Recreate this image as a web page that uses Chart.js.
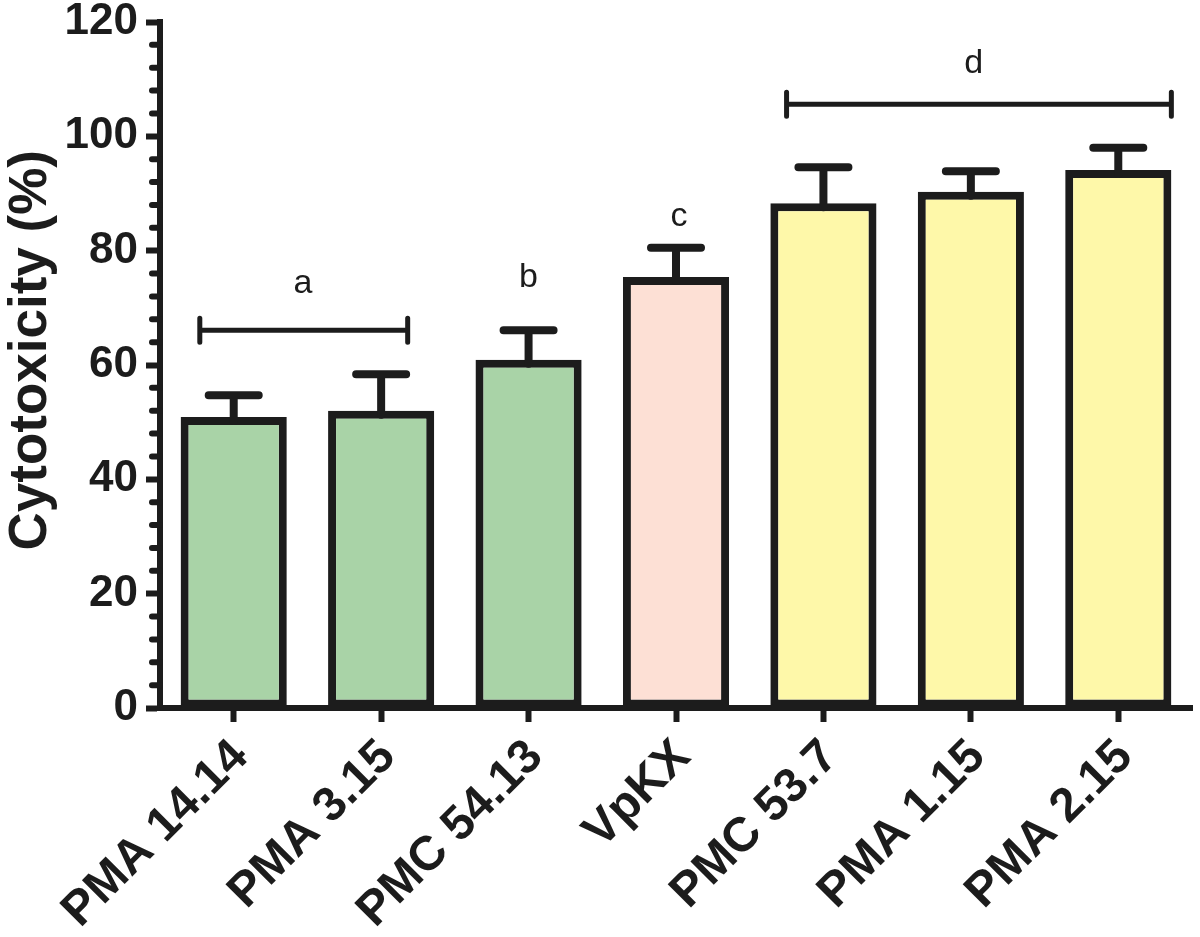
<!DOCTYPE html>
<html>
<head>
<meta charset="utf-8">
<script src="https://cdn.jsdelivr.net/npm/chart.js@4.4.1/dist/chart.umd.min.js"></script>
<style>
  html, body { margin: 0; padding: 0; background: #fff; }
  #wrap { width: 1200px; height: 937px; }
</style>
</head>
<body>
<div id="wrap"><canvas id="cyto" width="1200" height="937"></canvas></div>
<script>
// data
const strains = ['PMA 14.14', 'PMA 3.15', 'PMC 54.13', 'VpKX', 'PMC 53.7', 'PMA 1.15', 'PMA 2.15'];
const cytoMean = [50.9, 52.0, 60.9, 75.4, 88.3, 90.3, 94.1];
const cytoSD = [3.8, 6.4, 5.2, 5.1, 6.3, 3.6, 3.9];
const barColors = ['#a9d3a7', '#a9d3a7', '#a9d3a7', '#fde0d5', '#fef8a9', '#fef8a9', '#fef8a9'];

// significance groups (brackets + letters), x in category units
const bracketFrom = [-0.23, 3.75];
const bracketTo = [1.18, 6.36];
const bracketY = [66.1, 105.6];
const letterText = ['a', 'b', 'c', 'd'];
const letterX = [0.47, 2.0, 3.02, 5.02];
const letterY = [74.3, 75.2, 85.9, 112.8];

const yMin = 0, yMax = 120, yMajor = 20, yMinor = 4;

const ink = '#1c1c1c';
const fam = '"Liberation Sans", Arial, Helvetica, sans-serif';

const extras = {
    id: 'extras',
    afterDatasetsDraw(chart) {
        const ctx = chart.ctx;
        const y = chart.scales.y;
        const meta = chart.getDatasetMeta(0);
        ctx.save();
        ctx.strokeStyle = ink;
        ctx.lineCap = 'round';
        ctx.lineWidth = 8;
        meta.data.forEach((bar, i) => {
            const yb = y.getPixelForValue(cytoMean[i]) + 4;
            const yt = y.getPixelForValue(cytoMean[i] + cytoSD[i]);
            ctx.beginPath();
            ctx.moveTo(bar.x, yb);
            ctx.lineTo(bar.x, yt);
            ctx.moveTo(bar.x - 25, yt);
            ctx.lineTo(bar.x + 25, yt);
            ctx.stroke();
        });
        ctx.restore();
    },
    afterDraw(chart) {
        const ctx = chart.ctx;
        const x = chart.scales.x;
        const y = chart.scales.y;
        const left = chart.chartArea.left;
        ctx.save();
        ctx.strokeStyle = ink;
        ctx.fillStyle = ink;
        ctx.lineCap = 'round';

        // minor ticks on y
        ctx.lineWidth = 6;
        for (let v = yMin; v <= yMax; v += yMinor) {
            if (v % yMajor === 0) continue;
            const py = y.getPixelForValue(v);
            ctx.beginPath();
            ctx.moveTo(left - 8, py);
            ctx.lineTo(left, py);
            ctx.stroke();
        }

        // brackets
        ctx.lineWidth = 5;
        bracketY.forEach((v, i) => {
            const py = y.getPixelForValue(v);
            const x0 = x.getPixelForValue(bracketFrom[i]);
            const x1 = x.getPixelForValue(bracketTo[i]);
            ctx.beginPath();
            ctx.moveTo(x0, py);
            ctx.lineTo(x1, py);
            ctx.moveTo(x0, py - 12);
            ctx.lineTo(x0, py + 12);
            ctx.moveTo(x1, py - 12);
            ctx.lineTo(x1, py + 12);
            ctx.stroke();
        });

        // letters
        ctx.font = '34px ' + fam;
        ctx.textAlign = 'center';
        ctx.textBaseline = 'middle';
        letterText.forEach((t, i) => {
            ctx.fillText(t, x.getPixelForValue(letterX[i]), y.getPixelForValue(letterY[i]));
        });
        ctx.restore();
    }
};

new Chart(document.getElementById('cyto'), {
    type: 'bar',
    data: {
        labels: strains,
        datasets: [{
            data: cytoMean,
            backgroundColor: barColors,
            borderColor: ink,
            borderWidth: 8,
            borderSkipped: false,
            barPercentage: 0.72,
            categoryPercentage: 1.0
        }]
    },
    options: {
        responsive: false,
        animation: false,
        layout: { padding: { top: 22, right: 8, left: 0, bottom: 0 } },
        plugins: { legend: { display: false }, tooltip: { enabled: false } },
        scales: {
            x: {
                afterFit(s) { s.height = 229; s.paddingLeft = 0; s.paddingRight = 0; },
                grid: { display: true, drawOnChartArea: false, offset: false, tickLength: 14, tickWidth: 6, tickColor: ink },
                border: { display: true, width: 6, color: ink },
                ticks: {
                    color: ink,
                    font: { family: fam, size: 48, weight: 'bold' },
                    minRotation: 45,
                    maxRotation: 45,
                    padding: 7,
                    labelOffset: 7,
                    autoSkip: false
                }
            },
            y: {
                min: yMin,
                max: yMax,
                afterFit(s) { s.width = 160; s.paddingTop = 0; s.paddingBottom = 0; },
                grid: { display: true, drawOnChartArea: false, tickLength: 14, tickWidth: 6, tickColor: ink },
                border: { display: true, width: 6, color: ink },
                ticks: {
                    stepSize: yMajor,
                    color: ink,
                    font: { family: fam, size: 44, weight: 'bold' },
                    padding: 8
                },
                title: {
                    display: true,
                    text: '  Cytotoxicity (%)',
                    color: ink,
                    font: { family: fam, size: 53, weight: 'bold' },
                    padding: 0
                }
            }
        }
    },
    plugins: [extras]
});
</script>
</body>
</html>
